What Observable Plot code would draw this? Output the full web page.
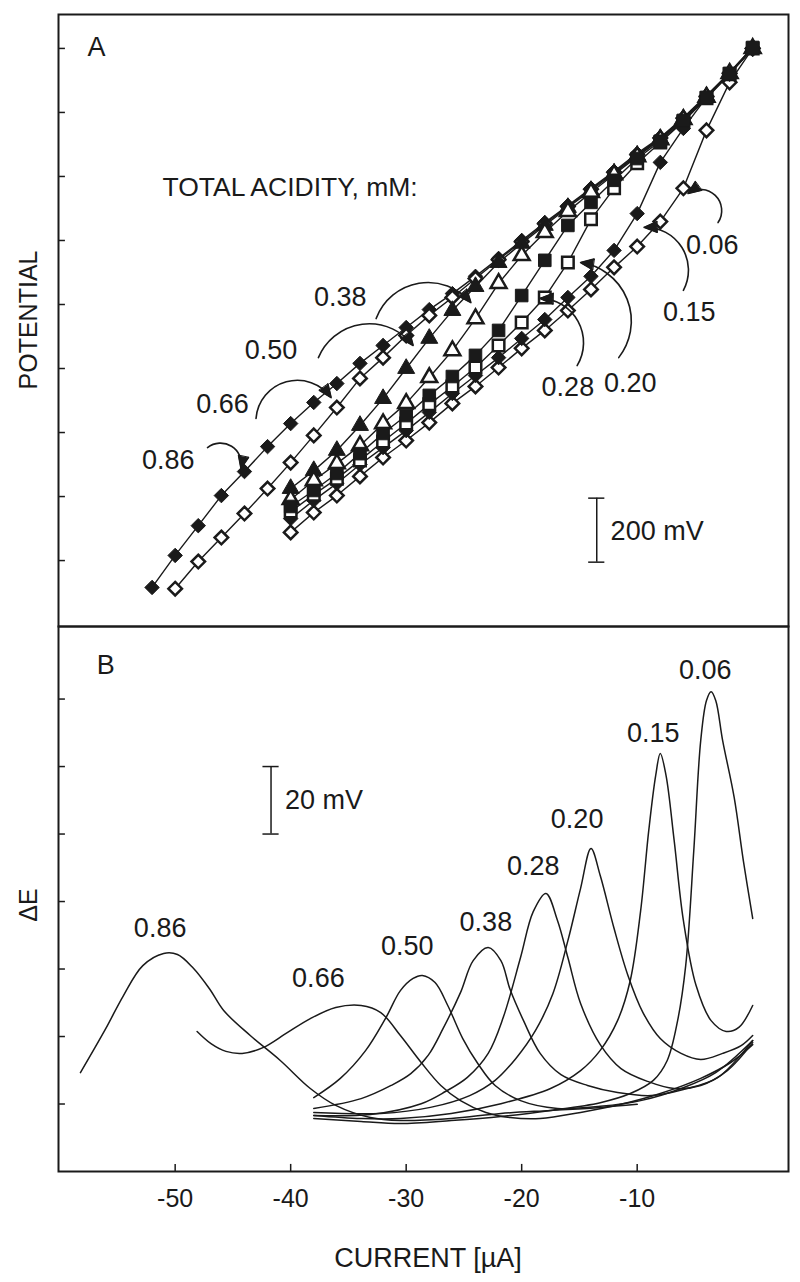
<!DOCTYPE html>
<html><head><meta charset="utf-8">
<script src="https://cdn.jsdelivr.net/npm/d3@7"></script>
<script src="https://cdn.jsdelivr.net/npm/@observablehq/plot@0.6"></script>
<style>
html,body{margin:0;padding:0;background:#fff;}
#chart{position:relative;width:800px;height:1282px;overflow:hidden;font-family:"Liberation Sans",Arial,Helvetica,sans-serif;color:#1a1a1a;background:#fff;}
#chart svg{position:absolute;left:0;overflow:visible;}
.lab{position:absolute;font-size:25px;white-space:nowrap;line-height:1;}
</style></head><body><div id="chart"></div>
<script>
// ---------- Panel A: potential (mV) vs current (µA) ----------
const currentA52 = [-52,-50,-48,-46,-44,-42,-40,-38,-36,-34,-32,-30,-28,-26,-24,-22,-20,-18,-16,-14,-12,-10,-8,-6,-4,-2,0];
const currentA50 = [-50,-48,-46,-44,-42,-40,-38,-36,-34,-32,-30,-28,-26,-24,-22,-20,-18,-16,-14,-12,-10,-8,-6,-4,-2,0];
const currentA40 = [-40,-38,-36,-34,-32,-30,-28,-26,-24,-22,-20,-18,-16,-14,-12,-10,-8,-6,-4,-2,0];
const potential086 = [-84,16,109,203,278,356,428,494,553,616,672,728,784,834,888,944,1000,1056,1109,1163,1216,1272,1322,1384,1453,1525,1603];
const potential066 = [-88,-3,72,147,225,306,391,478,569,634,703,766,822,881,940,996,1052,1106,1160,1213,1268,1320,1382,1450,1522,1600];
const potential050 = [225,281,344,422,506,600,694,781,856,931,991,1047,1103,1156,1210,1266,1318,1380,1450,1522,1600];
const potential038 = [191,250,303,359,428,491,572,656,756,866,953,1025,1091,1150,1206,1262,1315,1378,1448,1522,1600];
const potential028 = [169,219,272,334,397,453,516,575,641,719,828,938,1047,1119,1188,1256,1310,1375,1447,1522,1603];
const potential020 = [153,206,256,313,372,428,488,544,603,672,744,822,931,1066,1163,1241,1306,1372,1444,1519,1600];
const potential015 = [131,188,241,300,353,406,463,522,578,634,694,753,822,888,969,1084,1244,1350,1447,1525,1603];
const potential006 = [88,150,203,263,322,375,431,491,544,603,663,719,781,847,916,981,1059,1163,1344,1494,1600];

const acidityLabels = ["0.86","0.66","0.50","0.38","0.28","0.20","0.15","0.06"];
const labelCurrentA = [-50.6,-45.9,-41.7,-35.7,-16.0,-10.6,-5.5,-3.5];
const labelPotentialA = [313,488,656,822,541,553,775,984];
const arrowFromCurrent = [-47.2,-43.0,-37.6,-32.6,-15.2,-11.6,-6.0,-3.0];
const arrowFromPotential = [353,444,634,756,609,634,844,1056];
const arrowToCurrent = [-44.3,-36.5,-29.4,-24.4,-18.4,-14.9,-9.4,-5.6];
const arrowToPotential = [288,509,672,806,819,931,1041,1147];
const arrowBend = [70,70,60,60,-60,-60,-60,-80];

// ---------- Panel B: ΔE (mV) vs current (µA) ----------
const currentB086 = [-58.2,-56.0,-54.5,-52.8,-51.0,-49.8,-48.5,-47.0,-45.8,-43.5,-40.9,-38.3,-36.1,-33.1,-30.5,-26.1,-21.8,-17.5,-13.2,-10.0];
const deltaE086  = [29.3,42.4,52.0,61.0,64.6,64.3,60.5,54.0,47.7,40.3,32.9,24.6,19.6,16.0,15.1,15.7,17.2,18.1,19.0,19.9];
const currentB066 = [-48.1,-46.9,-45.6,-44.2,-42.4,-40.4,-38.3,-36.1,-33.9,-32.2,-30.5,-28.7,-27.0,-25.3,-23.1,-21.0,-18.4,-14.9,-11.4,-8.0,-4.5,-1.9,0];
const deltaE066  = [41.5,37.9,35.6,35.0,36.7,40.9,45.3,48.6,49.2,47.1,40.3,32.3,25.5,21.0,17.5,16.0,15.7,17.5,19.9,23.1,27.6,32.3,37.6];
const currentB050 = [-38.0,-35.7,-33.5,-31.8,-30.5,-29.4,-28.6,-27.5,-26.4,-25.1,-23.8,-22.3,-20.1,-16.9,-13.2,-9.7,-6.2,-3.2,0];
const deltaE050  = [21.9,27.6,35.9,45.3,53.6,57.2,58.1,56.0,49.2,39.4,32.0,25.5,21.0,18.7,19.3,21.0,24.6,29.3,38.8];
const currentB038 = [-38.0,-33.9,-31.3,-29.6,-28.1,-26.8,-25.3,-24.2,-22.9,-21.8,-21.0,-19.8,-18.4,-16.6,-14.3,-11.7,-8.8,-6.0,-3.0,0];
const deltaE038  = [18.7,21.6,25.5,29.0,34.4,42.4,53.0,62.5,66.4,62.5,53.9,44.4,35.0,28.7,25.5,23.4,22.5,24.3,27.9,38.8];
const currentB028 = [-38.0,-33.1,-28.7,-26.6,-24.7,-22.9,-21.6,-20.1,-19.0,-17.9,-16.9,-16.0,-14.9,-13.2,-11.4,-9.1,-6.8,-4.5,-2.2,0];
const deltaE028  = [16.6,16.9,20.1,23.7,27.9,35.0,45.6,63.4,77.0,82.4,74.4,63.4,49.8,37.6,30.5,26.7,24.6,25.5,29.9,38.2];
const currentB020 = [-38.0,-32.2,-27.9,-24.5,-22.3,-20.5,-18.8,-17.3,-16.0,-14.9,-14.0,-13.2,-12.0,-10.8,-9.5,-8.0,-6.2,-4.5,-2.6,-1.0,0];
const deltaE020  = [17.5,17.2,19.0,22.5,27.0,33.5,41.8,52.7,68.4,83.9,95.7,87.7,72.0,58.1,47.1,39.4,35.0,33.2,35.0,37.3,40.3];
const currentB015 = [-38.0,-33.9,-30.5,-26.1,-21.8,-17.5,-14.9,-13.2,-11.7,-10.6,-9.7,-9.0,-8.4,-8.0,-7.5,-6.8,-6.0,-4.9,-3.6,-2.3,-1.2,0];
const deltaE015  = [16.6,15.7,15.7,17.2,20.1,24.6,29.9,35.9,44.7,56.6,77.3,101.0,117.3,123.9,117.3,98.1,74.4,55.1,44.7,41.5,42.7,49.2];
const currentB006 = [-38.0,-33.9,-30.5,-26.1,-21.8,-17.5,-13.2,-10.6,-8.6,-7.4,-6.5,-5.8,-5.1,-4.5,-4.0,-3.6,-3.2,-2.6,-1.6,-0.8,0];
const deltaE006  = [15.7,14.8,14.2,15.1,16.3,18.1,20.4,23.1,27.0,32.9,44.7,61.0,95.1,127.7,139.6,142.2,139.6,127.7,110.8,91.9,75.0];
const labelCurrentB = [-51.3,-37.6,-29.9,-23.1,-19.0,-15.2,-8.6,-4.1];
const labelDeltaEB = [72.0,57.2,66.7,73.8,90.4,104.3,129.8,148.4];

// ---------- axes ----------
const xTicks = [-50,-40,-30,-20,-10];
const potentialTicks = [0,200,400,600,800,1000,1200,1400,1600];
const deltaETicks = [20,40,60,80,100,120,140];
const xDomain = [-60.1, 3.1];
const potentialDomain = [-206, 1706];
const deltaEDomain = [0, 161.5];

const INK = "#1a1a1a";
const FONT = '"Liberation Sans", Arial, Helvetica, sans-serif';
const chart = document.getElementById("chart");

function rows(acid, xs, ys, xk, yk) {
  return xs.map((v, i) => ({acidity: acid, [xk]: v, [yk]: ys[i]}));
}

// turn Plot's open arrowheads into solid ones (re-using the head geometry Plot computed)
function solidHeads(svg) {
  svg.querySelectorAll('g[aria-label="arrow"] path').forEach(p => {
    const d = p.getAttribute("d");
    const m = d.match(/M([-\d.e]+),([-\d.e]+)L([-\d.e]+),([-\d.e]+)L([-\d.e]+),([-\d.e]+)\s*$/);
    if (!m) return;
    const head = document.createElementNS("http://www.w3.org/2000/svg", "path");
    head.setAttribute("d", `M${m[1]},${m[2]}L${m[3]},${m[4]}L${m[5]},${m[6]}Z`);
    head.setAttribute("fill", INK);
    head.setAttribute("stroke", INK);
    head.setAttribute("stroke-width", "1");
    p.parentNode.appendChild(head);
  });
}

// ----- Panel A -----
const seriesA = [
  {acid: "0.06", xs: currentA40, ys: potential006, symbol: "diamond2", open: true, r: 6.1},
  {acid: "0.15", xs: currentA40, ys: potential015, symbol: "diamond2", open: false, r: 6.5},
  {acid: "0.86", xs: currentA52, ys: potential086, symbol: "diamond2", open: false, r: 6.5},
  {acid: "0.66", xs: currentA50, ys: potential066, symbol: "diamond2", open: true, r: 6.1},
  {acid: "0.50", xs: currentA40, ys: potential050, symbol: "triangle", open: false, r: 6.3},
  {acid: "0.38", xs: currentA40, ys: potential038, symbol: "triangle", open: true, r: 5.9},
  {acid: "0.20", xs: currentA40, ys: potential020, symbol: "square", open: true, r: 6.5},
  {acid: "0.28", xs: currentA40, ys: potential028, symbol: "square", open: false, r: 7.1}
];
const lineRowsA = seriesA.flatMap(s => rows(s.acid, s.xs, s.ys, "current", "potential"));
const labelRowsA = acidityLabels.map((t, i) => ({t, x: labelCurrentA[i], y: labelPotentialA[i]}));
const arrowRows = acidityLabels.map((t, i) => ({x1: arrowFromCurrent[i], y1: arrowFromPotential[i], x2: arrowToCurrent[i], y2: arrowToPotential[i], bend: arrowBend[i]}));

const plotA = Plot.plot({
  width: 800, height: 627,
  marginLeft: 58, marginRight: 12, marginTop: 14, marginBottom: 1,
  x: {domain: xDomain, axis: null},
  y: {domain: potentialDomain, axis: null},
  style: {fontFamily: FONT, fontSize: "26px", color: INK, background: "white", overflow: "visible"},
  marks: [
    Plot.ruleY(potentialTicks, {y: d => d, x1: xDomain[0], x2: xDomain[0] + 0.6, stroke: INK, strokeWidth: 1.5}),
    Plot.line(lineRowsA, {x: "current", y: "potential", z: "acidity", stroke: INK, strokeWidth: 1.4}),
    ...seriesA.map(s => Plot.dot(rows(s.acid, s.xs, s.ys, "current", "potential"), {
      x: "current", y: "potential", symbol: s.symbol, r: s.r,
      fill: s.open ? "white" : INK, stroke: INK, strokeWidth: s.open ? 2.5 : 1
    })),
    ...arrowRows.map(a => Plot.arrow([a], {x1: "x1", y1: "y1", x2: "x2", y2: "y2", bend: a.bend, stroke: INK, strokeWidth: 1.6, headLength: 13, headAngle: 45})),
    Plot.text(labelRowsA, {x: "x", y: "y", text: "t", fontSize: 27, fill: INK}),
    Plot.text(["TOTAL ACIDITY, mM:"], {x: -51.1, y: 1166, text: d => d, textAnchor: "start", fontSize: 26.5, fill: INK}),
    Plot.text(["A"], {x: -56.8, y: 1603, text: d => d, fontSize: 27, fill: INK}),
    // 200 mV scale bar
    Plot.ruleX([-13.5], {x: d => d, y1: -5, y2: 195, stroke: INK, strokeWidth: 1.5}),
    Plot.ruleY([-5, 195], {y: d => d, x1: -14.2, x2: -12.8, stroke: INK, strokeWidth: 1.5}),
    Plot.text(["200 mV"], {x: -12.3, y: 92, text: d => d, textAnchor: "start", fontSize: 27, fill: INK}),
    Plot.frame({stroke: INK, strokeWidth: 2})
  ]
});
plotA.style.top = "0px";
solidHeads(plotA);
chart.appendChild(plotA);

// ----- Panel B -----
const seriesB = [
  {acid: "0.86", xs: currentB086, ys: deltaE086},
  {acid: "0.66", xs: currentB066, ys: deltaE066},
  {acid: "0.50", xs: currentB050, ys: deltaE050},
  {acid: "0.38", xs: currentB038, ys: deltaE038},
  {acid: "0.28", xs: currentB028, ys: deltaE028},
  {acid: "0.20", xs: currentB020, ys: deltaE020},
  {acid: "0.15", xs: currentB015, ys: deltaE015},
  {acid: "0.06", xs: currentB006, ys: deltaE006}
];
const lineRowsB = seriesB.flatMap(s => rows(s.acid, s.xs, s.ys, "current", "deltaE"));
const labelRowsB = acidityLabels.map((t, i) => ({t, x: labelCurrentB[i], y: labelDeltaEB[i]}));

const plotB = Plot.plot({
  width: 800, height: 656,
  marginLeft: 58, marginRight: 12, marginTop: 0, marginBottom: 111,
  x: {domain: xDomain},
  y: {domain: deltaEDomain, axis: null},
  style: {fontFamily: FONT, fontSize: "25px", color: INK, background: "transparent", overflow: "visible"},
  marks: [
    Plot.axisX({ticks: xTicks, tickSize: 0, tickPadding: 18, label: null, tickFormat: d => String(d), fontSize: 25}),
    Plot.ruleX(xTicks, {x: d => d, y1: 0, y2: 2.1, stroke: INK, strokeWidth: 1.5}),
    Plot.ruleY(deltaETicks, {y: d => d, x1: xDomain[0], x2: xDomain[0] + 0.6, stroke: INK, strokeWidth: 1.5}),
    Plot.line(lineRowsB, {x: "current", y: "deltaE", z: "acidity", curve: "catmull-rom", stroke: INK, strokeWidth: 1.5}),
    Plot.text(labelRowsB, {x: "x", y: "y", text: "t", fontSize: 27, fill: INK}),
    Plot.text(["B"], {x: -56.0, y: 149.9, text: d => d, fontSize: 27, fill: INK}),
    // 20 mV scale bar
    Plot.ruleX([-41.7], {x: d => d, y1: 100, y2: 120, stroke: INK, strokeWidth: 1.5}),
    Plot.ruleY([100, 120], {y: d => d, x1: -42.4, x2: -41.0, stroke: INK, strokeWidth: 1.5}),
    Plot.text(["20 mV"], {x: -40.5, y: 110, text: d => d, textAnchor: "start", fontSize: 27, fill: INK}),
    Plot.frame({stroke: INK, strokeWidth: 2})
  ]
});
plotB.style.top = "626px";
chart.appendChild(plotB);

// ----- axis titles -----
function addLabel(text, cx, cy, rotate, size) {
  const d = document.createElement("div");
  d.className = "lab";
  d.textContent = text;
  d.style.fontSize = size + "px";
  d.style.left = cx + "px";
  d.style.top = cy + "px";
  d.style.transform = "translate(-50%,-50%)" + (rotate ? " rotate(-90deg)" : "");
  chart.appendChild(d);
}
addLabel("POTENTIAL", 28, 320, true, 25);
addLabel("ΔE", 28, 905, true, 25);
addLabel("CURRENT [µA]", 428, 1258, false, 27);
</script></body></html>
